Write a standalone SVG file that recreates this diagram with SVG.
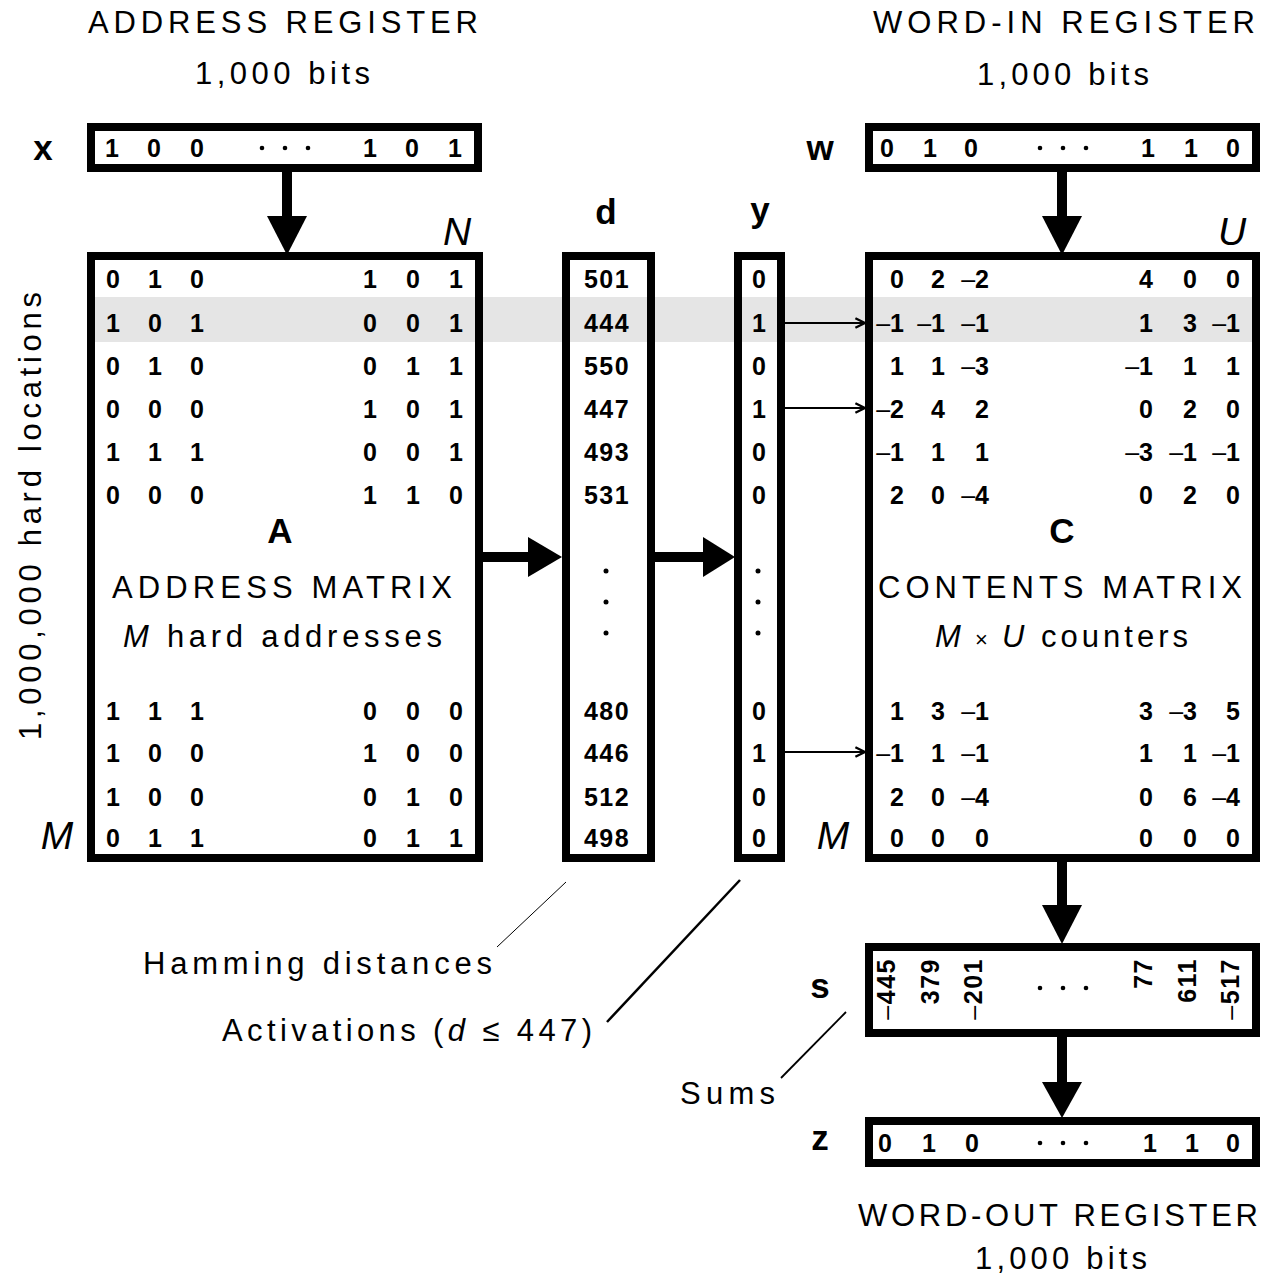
<svg xmlns="http://www.w3.org/2000/svg" width="1278" height="1285" viewBox="0 0 1278 1285">
<style>
text{font-family:"Liberation Sans",Arial,sans-serif;fill:#000}
.t{font-size:31px}
.b{font-size:25px;font-weight:bold}
.m{text-anchor:middle}
.e{text-anchor:end}
.lbl{font-size:35px;font-weight:bold;text-anchor:middle}
.it{font-size:39px;font-style:italic;text-anchor:middle}
.box{fill:none;stroke:#000;stroke-width:8}
.dash{font-weight:normal}
.dot{fill:#000}
</style>
<defs>
<marker id="thin" viewBox="0 0 10 10" refX="9" refY="5" markerWidth="6" markerHeight="6" orient="auto" markerUnits="strokeWidth"><path d="M1,1 L9,5 L1,9" fill="none" stroke="#000" stroke-width="2"/></marker>
</defs>
<rect x="94" y="297" width="1158" height="45" fill="#e5e5e5"/>

<g id="titles">
<text class="t" x="88" y="33" textLength="390" lengthAdjust="spacing">ADDRESS REGISTER</text>
<text class="t" x="195" y="84" textLength="175" lengthAdjust="spacing">1,000 bits</text>
<text class="t" x="873" y="33" textLength="382" lengthAdjust="spacing">WORD-IN REGISTER</text>
<text class="t" x="977" y="85" textLength="172" lengthAdjust="spacing">1,000 bits</text>
<text class="t" x="858" y="1226" textLength="400" lengthAdjust="spacing">WORD-OUT REGISTER</text>
<text class="t" x="975" y="1269" textLength="172" lengthAdjust="spacing">1,000 bits</text>
<text class="t" transform="translate(41,516) rotate(-90)" x="-224" y="0" textLength="448" lengthAdjust="spacing">1,000,000 hard locations</text>
</g>

<g id="reg-x">
<text class="lbl" x="43" y="160">x</text>
<rect class="box" x="91" y="127" width="387" height="41"/>
<g class="b m">
<text x="112" y="157">1</text><text x="154" y="157">0</text><text x="197" y="157">0</text>
<text x="370" y="157">1</text><text x="412" y="157">0</text><text x="455" y="157">1</text>
</g>
<circle class="dot" cx="262" cy="148" r="2.3"/><circle class="dot" cx="285" cy="148" r="2.3"/><circle class="dot" cx="308" cy="148" r="2.3"/>
</g>

<g id="reg-w">
<text class="lbl" x="820" y="160">w</text>
<rect class="box" x="869" y="127" width="387" height="41"/>
<g class="b m">
<text x="887" y="157">0</text><text x="930" y="157">1</text><text x="971" y="157">0</text>
<text x="1148" y="157">1</text><text x="1191" y="157">1</text><text x="1233" y="157">0</text>
</g>
<circle class="dot" cx="1040" cy="148" r="2.3"/><circle class="dot" cx="1063" cy="148" r="2.3"/><circle class="dot" cx="1086" cy="148" r="2.3"/>
</g>

<g id="matrix-A">
<text class="it" x="457" y="245">N</text>
<text class="it" x="57" y="849">M</text>
<rect class="box" x="91" y="256" width="388" height="602"/>
<g class="b m">
<text y="288"><tspan x="113">0</tspan><tspan x="155">1</tspan><tspan x="197">0</tspan><tspan x="370">1</tspan><tspan x="413">0</tspan><tspan x="456">1</tspan></text>
<text y="332"><tspan x="113">1</tspan><tspan x="155">0</tspan><tspan x="197">1</tspan><tspan x="370">0</tspan><tspan x="413">0</tspan><tspan x="456">1</tspan></text>
<text y="375"><tspan x="113">0</tspan><tspan x="155">1</tspan><tspan x="197">0</tspan><tspan x="370">0</tspan><tspan x="413">1</tspan><tspan x="456">1</tspan></text>
<text y="418"><tspan x="113">0</tspan><tspan x="155">0</tspan><tspan x="197">0</tspan><tspan x="370">1</tspan><tspan x="413">0</tspan><tspan x="456">1</tspan></text>
<text y="461"><tspan x="113">1</tspan><tspan x="155">1</tspan><tspan x="197">1</tspan><tspan x="370">0</tspan><tspan x="413">0</tspan><tspan x="456">1</tspan></text>
<text y="504"><tspan x="113">0</tspan><tspan x="155">0</tspan><tspan x="197">0</tspan><tspan x="370">1</tspan><tspan x="413">1</tspan><tspan x="456">0</tspan></text>
<text y="720"><tspan x="113">1</tspan><tspan x="155">1</tspan><tspan x="197">1</tspan><tspan x="370">0</tspan><tspan x="413">0</tspan><tspan x="456">0</tspan></text>
<text y="762"><tspan x="113">1</tspan><tspan x="155">0</tspan><tspan x="197">0</tspan><tspan x="370">1</tspan><tspan x="413">0</tspan><tspan x="456">0</tspan></text>
<text y="806"><tspan x="113">1</tspan><tspan x="155">0</tspan><tspan x="197">0</tspan><tspan x="370">0</tspan><tspan x="413">1</tspan><tspan x="456">0</tspan></text>
<text y="847"><tspan x="113">0</tspan><tspan x="155">1</tspan><tspan x="197">1</tspan><tspan x="370">0</tspan><tspan x="413">1</tspan><tspan x="456">1</tspan></text>
</g>
<text class="lbl" x="280" y="543">A</text>
<text class="t" x="112" y="598" textLength="340" lengthAdjust="spacing">ADDRESS MATRIX</text>
<text class="t" x="123" y="647" textLength="319" lengthAdjust="spacing"><tspan font-style="italic">M</tspan> hard addresses</text>
</g>

<g id="col-d">
<text class="lbl" x="606" y="224">d</text>
<rect class="box" x="566" y="256" width="85" height="602"/>
<g class="b m" letter-spacing="1.5">
<text x="607" y="288">501</text><text x="607" y="332">444</text><text x="607" y="375">550</text>
<text x="607" y="418">447</text><text x="607" y="461">493</text><text x="607" y="504">531</text>
<text x="607" y="720">480</text><text x="607" y="762">446</text><text x="607" y="806">512</text><text x="607" y="847">498</text>
</g>
<circle class="dot" cx="606" cy="571" r="2.5"/><circle class="dot" cx="606" cy="602" r="2.5"/><circle class="dot" cx="606" cy="633" r="2.5"/>
</g>

<g id="col-y">
<text class="lbl" x="760" y="222">y</text>
<rect class="box" x="738" y="256" width="43" height="602"/>
<g class="b m">
<text x="759" y="288">0</text><text x="759" y="332">1</text><text x="759" y="375">0</text>
<text x="759" y="418">1</text><text x="759" y="461">0</text><text x="759" y="504">0</text>
<text x="759" y="720">0</text><text x="759" y="762">1</text><text x="759" y="806">0</text><text x="759" y="847">0</text>
</g>
<circle class="dot" cx="758" cy="571" r="2.5"/><circle class="dot" cx="758" cy="602" r="2.5"/><circle class="dot" cx="758" cy="633" r="2.5"/>
</g>

<g id="matrix-C">
<text class="it" x="1232" y="245">U</text>
<text class="it" x="833" y="849">M</text>
<rect class="box" x="869" y="256" width="387" height="602"/>
<g class="b e">
<text y="288"><tspan x="904">0</tspan><tspan x="945">2</tspan><tspan x="989"><tspan class="dash">–</tspan>2</tspan><tspan x="1153">4</tspan><tspan x="1197">0</tspan><tspan x="1240">0</tspan></text>
<text y="332"><tspan x="904"><tspan class="dash">–</tspan>1</tspan><tspan x="945"><tspan class="dash">–</tspan>1</tspan><tspan x="989"><tspan class="dash">–</tspan>1</tspan><tspan x="1153">1</tspan><tspan x="1197">3</tspan><tspan x="1240"><tspan class="dash">–</tspan>1</tspan></text>
<text y="375"><tspan x="904">1</tspan><tspan x="945">1</tspan><tspan x="989"><tspan class="dash">–</tspan>3</tspan><tspan x="1153"><tspan class="dash">–</tspan>1</tspan><tspan x="1197">1</tspan><tspan x="1240">1</tspan></text>
<text y="418"><tspan x="904"><tspan class="dash">–</tspan>2</tspan><tspan x="945">4</tspan><tspan x="989">2</tspan><tspan x="1153">0</tspan><tspan x="1197">2</tspan><tspan x="1240">0</tspan></text>
<text y="461"><tspan x="904"><tspan class="dash">–</tspan>1</tspan><tspan x="945">1</tspan><tspan x="989">1</tspan><tspan x="1153"><tspan class="dash">–</tspan>3</tspan><tspan x="1197"><tspan class="dash">–</tspan>1</tspan><tspan x="1240"><tspan class="dash">–</tspan>1</tspan></text>
<text y="504"><tspan x="904">2</tspan><tspan x="945">0</tspan><tspan x="989"><tspan class="dash">–</tspan>4</tspan><tspan x="1153">0</tspan><tspan x="1197">2</tspan><tspan x="1240">0</tspan></text>
<text y="720"><tspan x="904">1</tspan><tspan x="945">3</tspan><tspan x="989"><tspan class="dash">–</tspan>1</tspan><tspan x="1153">3</tspan><tspan x="1197"><tspan class="dash">–</tspan>3</tspan><tspan x="1240">5</tspan></text>
<text y="762"><tspan x="904"><tspan class="dash">–</tspan>1</tspan><tspan x="945">1</tspan><tspan x="989"><tspan class="dash">–</tspan>1</tspan><tspan x="1153">1</tspan><tspan x="1197">1</tspan><tspan x="1240"><tspan class="dash">–</tspan>1</tspan></text>
<text y="806"><tspan x="904">2</tspan><tspan x="945">0</tspan><tspan x="989"><tspan class="dash">–</tspan>4</tspan><tspan x="1153">0</tspan><tspan x="1197">6</tspan><tspan x="1240"><tspan class="dash">–</tspan>4</tspan></text>
<text y="847"><tspan x="904">0</tspan><tspan x="945">0</tspan><tspan x="989">0</tspan><tspan x="1153">0</tspan><tspan x="1197">0</tspan><tspan x="1240">0</tspan></text>
</g>
<text class="lbl" x="1062" y="543">C</text>
<text class="t" x="878" y="598" textLength="364" lengthAdjust="spacing">CONTENTS MATRIX</text>
<text class="t" x="935" y="647" textLength="253" lengthAdjust="spacing"><tspan font-style="italic">M</tspan><tspan font-size="22"> × </tspan><tspan font-style="italic">U</tspan> counters</text>
</g>

<g id="reg-s">
<text class="lbl" x="820" y="998">s</text>
<rect class="box" x="869" y="947" width="387" height="86"/>
<g class="b e" letter-spacing="1.5">
<text transform="translate(895,958) rotate(-90)"><tspan class="dash">–</tspan>445</text>
<text transform="translate(939,958) rotate(-90)">379</text>
<text transform="translate(982,958) rotate(-90)"><tspan class="dash">–</tspan>201</text>
<text transform="translate(1152,958) rotate(-90)">77</text>
<text transform="translate(1196,958) rotate(-90)">611</text>
<text transform="translate(1239,958) rotate(-90)"><tspan class="dash">–</tspan>517</text>
</g>
<circle class="dot" cx="1040" cy="988" r="2.3"/><circle class="dot" cx="1063" cy="988" r="2.3"/><circle class="dot" cx="1086" cy="988" r="2.3"/>
</g>

<g id="reg-z">
<text class="lbl" x="820" y="1150">z</text>
<rect class="box" x="869" y="1121" width="387" height="42"/>
<g class="b m">
<text x="885" y="1152">0</text><text x="929" y="1152">1</text><text x="972" y="1152">0</text>
<text x="1150" y="1152">1</text><text x="1192" y="1152">1</text><text x="1233" y="1152">0</text>
</g>
<circle class="dot" cx="1040" cy="1143" r="2.3"/><circle class="dot" cx="1063" cy="1143" r="2.3"/><circle class="dot" cx="1086" cy="1143" r="2.3"/>
</g>

<g id="notes">
<text class="t" x="143" y="974" textLength="349" lengthAdjust="spacing">Hamming distances</text>
<text class="t" x="222" y="1041" textLength="370" lengthAdjust="spacing">Activations (<tspan font-style="italic">d</tspan> ≤ 447)</text>
<text class="t" x="680" y="1104" textLength="95" lengthAdjust="spacing">Sums</text>
</g>

<g id="connectors">
<g fill="#000">
<rect x="282" y="172" width="10" height="46"/><polygon points="267,216 307,216 287,255"/>
<rect x="1057" y="172" width="10" height="46"/><polygon points="1042,216 1082,216 1062,255"/>
<rect x="483" y="552" width="47" height="10"/><polygon points="528,537 528,577 562,557"/>
<rect x="655" y="552" width="50" height="10"/><polygon points="703,537 703,577 735,557"/>
<rect x="1057" y="862" width="10" height="46"/><polygon points="1042,905 1082,905 1062,944"/>
<rect x="1057" y="1037" width="10" height="48"/><polygon points="1042,1082 1082,1082 1062,1118"/>
</g>
<g stroke="#000" fill="none">
<line x1="785" y1="323" x2="865" y2="323" stroke-width="2" marker-end="url(#thin)"/>
<line x1="785" y1="408" x2="865" y2="408" stroke-width="2" marker-end="url(#thin)"/>
<line x1="785" y1="752" x2="865" y2="752" stroke-width="2" marker-end="url(#thin)"/>
<line x1="566" y1="882" x2="497" y2="947" stroke-width="1"/>
<line x1="740" y1="880" x2="607" y2="1022" stroke-width="2.5"/>
<line x1="846" y1="1012" x2="781" y2="1078" stroke-width="1.8"/>
</g>
</g>
</svg>
